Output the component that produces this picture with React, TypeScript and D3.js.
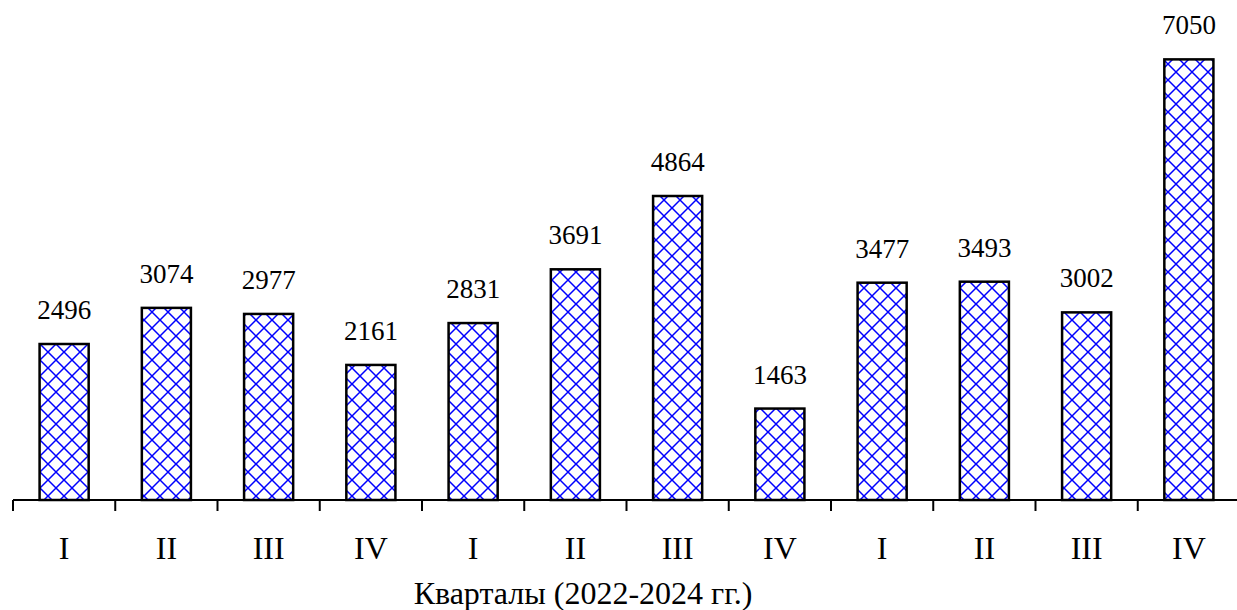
import React from 'react';
import * as d3 from 'd3';

// chart data
const quarters = ['I', 'II', 'III', 'IV', 'I', 'II', 'III', 'IV', 'I', 'II', 'III', 'IV'];
const values = [2496, 3074, 2977, 2161, 2831, 3691, 4864, 1463, 3477, 3493, 3002, 7050];
const axisTitle = 'Кварталы (2022-2024 гг.)';

const width = 1237;
const height = 610;
const baseY = 500; // y of the axis line
const left = 13;
const right = 1240;
const font = 'Liberation Serif, Times New Roman, serif';

export default function App() {
  const ids = quarters.map((_, i) => i);

  const x = d3.scaleBand<number>()
    .domain(ids)
    .range([left, right])
    .paddingInner(0.52)
    .paddingOuter(0.26);

  const y = d3.scaleLinear()
    .domain([0, 8000])
    .range([baseY, 0]);

  const step = x.step();
  const tickXs = ids.map(i => (x(i) as number) - (step * 0.52) / 2);

  return (
    <div style={{ position: 'fixed', left: 0, top: 0 }}>
      <svg width={width} height={height} style={{ display: 'block', background: '#fff' }}>
        <defs>
          <pattern id="hatch" width={16} height={16} patternUnits="userSpaceOnUse">
            <path d="M0,0 L16,16 M16,0 L0,16" stroke="#0000ff" strokeWidth={1.5} />
          </pattern>
        </defs>

        {values.map((v, i) => (
          <g key={i}>
            <rect
              x={x(i)}
              y={y(v)}
              width={x.bandwidth()}
              height={baseY - y(v)}
              fill="url(#hatch)"
              stroke="#000"
              strokeWidth={2.5}
            />
            <text
              x={(x(i) as number) + x.bandwidth() / 2}
              y={y(v) - 25}
              textAnchor="middle"
              fontFamily={font}
              fontSize={27}
            >
              {v}
            </text>
            <text
              x={(x(i) as number) + x.bandwidth() / 2}
              y={559}
              textAnchor="middle"
              fontFamily={font}
              fontSize={32}
            >
              {quarters[i]}
            </text>
          </g>
        ))}

        {/* axis */}
        <line x1={left} x2={width} y1={baseY} y2={baseY} stroke="#000" strokeWidth={2} />
        {tickXs.map((tx, i) => (
          <line key={i} x1={tx} x2={tx} y1={baseY} y2={baseY + 11} stroke="#000" strokeWidth={2} />
        ))}

        <text x={583} y={604} textAnchor="middle" fontFamily={font} fontSize={32}>
          {axisTitle}
        </text>
      </svg>
    </div>
  );
}
